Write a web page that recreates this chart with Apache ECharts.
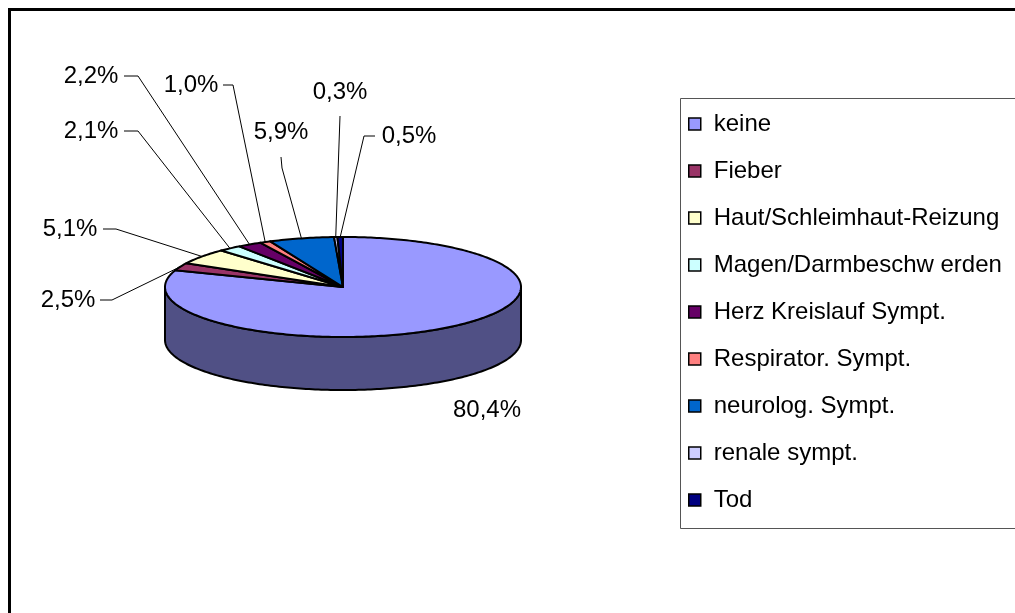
<!DOCTYPE html>
<html>
<head>
<meta charset="utf-8">
<script src="https://cdn.jsdelivr.net/npm/echarts@6/dist/echarts.min.js"></script>
<style>
html,body{margin:0;padding:0;background:#fff;}
#main{width:1015px;height:613px;}
</style>
</head>
<body>
<div id="main"></div>
<script>
// ---- data ----
const categories = ['keine','Fieber','Haut/Schleimhaut-Reizung','Magen/Darmbeschw erden','Herz Kreislauf Sympt.','Respirator. Sympt.','neurolog. Sympt.','renale sympt.','Tod'];
const values = [80.4, 2.5, 5.1, 2.1, 2.2, 1.0, 5.9, 0.3, 0.5];

// ---- styles / layout ----
const colors = ['#9999FF','#993366','#FFFFCC','#CCFFFF','#660066','#FF8080','#0066CC','#CCCCFF','#000080'];
const PIE = {cx: 343, cy: 287, rx: 178, ry: 50, depth: 53};
const FONT = '24px "Liberation Sans", Arial, sans-serif';
const labelPos = [[487,410],[68,300],[70,229],[91,131],[91,76],[191,85],[281,132],[340,92],[409,136]];
const leaderPts = [
  null,
  [[100,300],[112,300]],
  [[103,229],[116,229]],
  [[124,131],[138,131]],
  [[124,76],[138,76]],
  [[223,85],[233,85]],
  [[281,157],[282,168]],
  [[340,116]],
  [[375,136],[364,136]]
];

function darken(hex, f){
  const n = parseInt(hex.slice(1),16);
  const r = Math.round(((n>>16)&255)*f), g = Math.round(((n>>8)&255)*f), b = Math.round((n&255)*f);
  return 'rgb('+r+','+g+','+b+')';
}
function pt(deg, dy){
  const a = deg*Math.PI/180;
  return [PIE.cx + PIE.rx*Math.sin(a), PIE.cy - PIE.ry*Math.cos(a) + (dy||0)];
}
function arc(a0, a1, dy){
  const pts = [];
  const n = Math.max(2, Math.ceil(Math.abs(a1-a0)/1));
  for (let i=0;i<=n;i++) pts.push(pt(a0 + (a1-a0)*i/n, dy));
  return pts;
}
const total = values.reduce((s,v)=>s+v,0);
const startAngles = [];
{ let acc = 0; values.forEach(v=>{ startAngles.push(acc/total*360); acc += v; }); }

function makeRender(idx){
  return function(params, api){
    const v = api.value(0);
    const a0 = startAngles[idx];
    const a1 = a0 + v/total*360;
    const children = [];
    // side wall (front half: 90..270 deg clockwise from top)
    const s = Math.max(a0, 90), e = Math.min(a1, 270);
    if (e > s){
      const top = arc(s, e, 0);
      const bot = arc(e, s, PIE.depth);
      children.push({type:'polygon', shape:{points: top.concat(bot)},
        style:{fill: darken(colors[idx], 0.52), stroke:'#000', lineWidth:2, lineJoin:'round'}});
    }
    // top face
    const face = [[PIE.cx, PIE.cy]].concat(arc(a0, a1, 0));
    children.push({type:'polygon', shape:{points: face},
      style:{fill: colors[idx], stroke:'#000', lineWidth:2, lineJoin:'round'}});
    // leader line
    if (leaderPts[idx]){
      const mid = pt((a0+a1)/2, 0);
      children.push({type:'polyline', shape:{points: leaderPts[idx].concat([mid])},
        style:{stroke:'#000', lineWidth:1, fill:null}, z2: 5});
    }
    // label
    const pct = (v/total*100).toFixed(1).replace('.', ',') + '%';
    children.push({type:'text', z2: 6, style:{text: pct, x: labelPos[idx][0], y: labelPos[idx][1],
      align:'center', verticalAlign:'middle', font: FONT, fill:'#000'}});
    return {type:'group', children: children};
  };
}

const chart = echarts.init(document.getElementById('main'), null, {renderer:'canvas'});
const series = categories.map((name, i) => ({
  type:'custom', name: name, coordinateSystem:'none',
  itemStyle:{color: colors[i]},
  data:[[values[i]]],
  renderItem: makeRender(i),
  animation:false
}));

chart.setOption({
  animation:false,
  backgroundColor:'#fff',
  graphic:[
    {type:'rect', shape:{x:9.5, y:9.5, width:1100, height:700}, style:{fill:null, stroke:'#000', lineWidth:3}, z:-10},
    {type:'rect', shape:{x:680.5, y:98.5, width:400, height:430}, style:{fill:'#fff', stroke:'#555', lineWidth:1}, z:-5}
  ],
  legend:{
    orient:'vertical', left:688, top:112, padding:0,
    itemWidth:12, itemHeight:12, itemGap:23,
    icon:'rect',
    selectedMode:false,
    itemStyle:{borderColor:'#000', borderWidth:1.5},
    textStyle:{fontFamily:'"Liberation Sans", Arial, sans-serif', fontSize:24, lineHeight:24, color:'#000', padding:[0,0,0,8]},
    data: categories
  },
  series: series
});
</script>
</body>
</html>
